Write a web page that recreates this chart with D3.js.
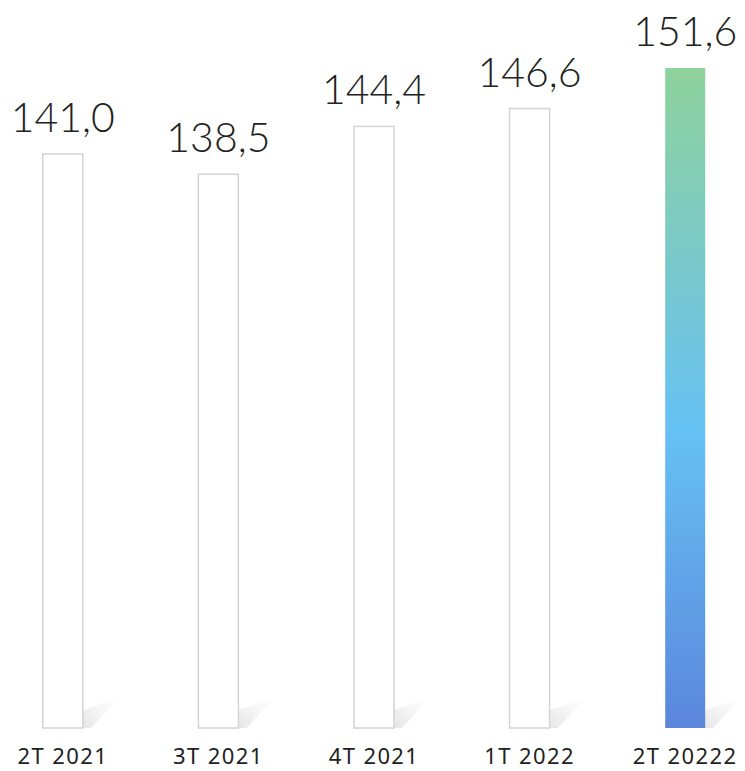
<!DOCTYPE html>
<html>
<head>
<meta charset="utf-8">
<script src="https://cdn.jsdelivr.net/npm/d3@7"></script>
<style>
  body { margin: 0; background: #fff; }
  svg { display: block; }
</style>
</head>
<body>
<svg id="chart" width="745" height="771"></svg>
<script>
// data
var CATEGORIES = ["2T 2021", "3T 2021", "4T 2021", "1T 2022", "2T 20222"];
var VALUES = [141.0, 138.5, 144.4, 146.6, 151.6];
var LABELS = ["141,0", "138,5", "144,4", "146,6", "151,6"];

var WIDTH = 745;
var HEIGHT = 771;
var MARGIN = {left: -15, right: -18, top: 68, bottom: 43};
var BAR_W = 40;

var svg = d3.select("#chart");

var xScale = d3.scaleBand()
    .domain(CATEGORIES)
    .range([MARGIN.left, WIDTH - MARGIN.right])
    .paddingInner(0)
    .paddingOuter(0);

var yScale = d3.scaleLinear()
    .domain([70.2, 151.6])
    .range([HEIGHT - MARGIN.bottom, MARGIN.top]);

var defs = svg.append("defs");

var grad = defs.append("linearGradient")
    .attr("id", "barGrad")
    .attr("x1", 0).attr("y1", 0).attr("x2", 0).attr("y2", 1);
grad.append("stop").attr("offset", "0%").attr("stop-color", "#8fd29c");
grad.append("stop").attr("offset", "55%").attr("stop-color", "#66c1f4");
grad.append("stop").attr("offset", "100%").attr("stop-color", "#5b86dc");

var shadow = defs.append("linearGradient")
    .attr("id", "shadowGrad")
    .attr("x1", 0).attr("y1", 1).attr("x2", 1).attr("y2", 0);
shadow.append("stop").attr("offset", "0%").attr("stop-color", "#e6e6e6");
shadow.append("stop").attr("offset", "55%").attr("stop-color", "#f6f6f6");
shadow.append("stop").attr("offset", "100%").attr("stop-color", "#ffffff");

var base = yScale.range()[0];
var last = CATEGORIES.length - 1;

function cx(c) { return xScale(c) + xScale.bandwidth() / 2; }

// shadows
svg.append("g").selectAll("path")
    .data(CATEGORIES)
    .join("path")
    .attr("d", c => {
        var r = cx(c) + BAR_W / 2;
        return "M" + r + "," + base +
            "L" + r + "," + (base - 18) +
            "L" + (r + 36) + "," + (base - 30) +
            "L" + (r + 8) + "," + base + "Z";
    })
    .attr("fill", "url(#shadowGrad)");

// bars
svg.append("g").selectAll("rect")
    .data(VALUES)
    .join("rect")
    .attr("x", (d, i) => cx(CATEGORIES[i]) - BAR_W / 2)
    .attr("y", d => yScale(d))
    .attr("width", BAR_W)
    .attr("height", d => base - yScale(d))
    .attr("fill", (d, i) => i === last ? "url(#barGrad)" : "#fff")
    .attr("stroke", (d, i) => i === last ? "none" : "#d3d3d3")
    .attr("stroke-width", 1.5);

// value labels
svg.append("g").selectAll("text")
    .data(VALUES)
    .join("text")
    .attr("x", (d, i) => cx(CATEGORIES[i]))
    .attr("y", d => yScale(d) - 22)
    .attr("text-anchor", "middle")
    .attr("font-family", "Lato, sans-serif")
    .attr("font-weight", 300)
    .attr("font-size", 41)
    .attr("fill", "#222")
    .text((d, i) => LABELS[i]);

// category labels
svg.append("g").selectAll("text")
    .data(CATEGORIES)
    .join("text")
    .attr("x", c => cx(c))
    .attr("y", 764)
    .attr("text-anchor", "middle")
    .attr("font-family", "'Noto Sans', sans-serif")
    .attr("font-size", 22)
    .attr("letter-spacing", 1.4)
    .attr("fill", "#222")
    .text(c => c);
</script>
</body>
</html>
